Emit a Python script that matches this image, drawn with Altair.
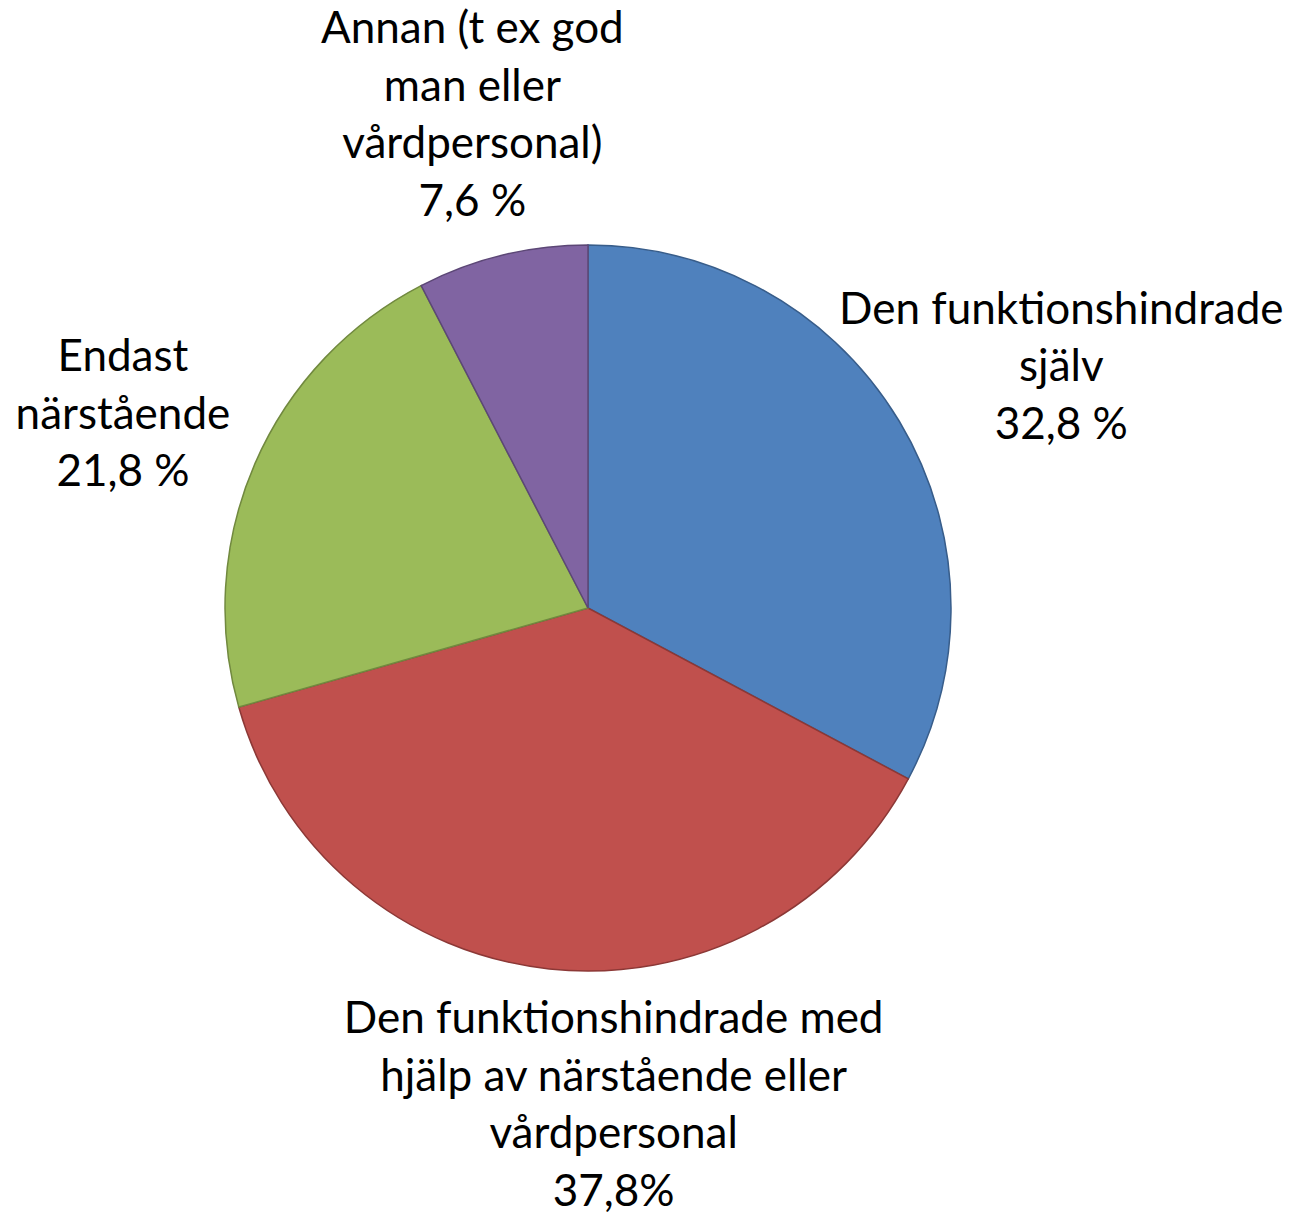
import altair as alt
import pandas as pd

categories = [
    "Den funktionshindrade själv",
    "Den funktionshindrade med hjälp av närstående eller vårdpersonal",
    "Endast närstående",
    "Annan (t ex god man eller vårdpersonal)",
]
values = [32.8, 37.8, 21.8, 7.6]
label_lines = [
    "Den funktionshindrade\nsjälv\n32,8 %",
    "Den funktionshindrade med\nhjälp av närstående eller\nvårdpersonal\n37,8%",
    "Endast\nnärstående\n21,8 %",
    "Annan (t ex god\nman eller\nvårdpersonal)\n7,6 %",
]
fill_colors = ["#4F81BD", "#C0504D", "#9BBB59", "#8064A2"]
stroke_colors = ["#385D8A", "#8C3836", "#71893F", "#5C4776"]

df = pd.DataFrame({
    "cat": categories,
    "value": values,
    "label": label_lines,
    "order": list(range(len(categories))),
})

pie = alt.Chart(df).mark_arc(radius=363, strokeWidth=1.5).encode(
    theta=alt.Theta("value:Q", stack=True),
    order=alt.Order("order:Q"),
    color=alt.Color("cat:N", scale=alt.Scale(domain=categories, range=fill_colors), legend=None),
    stroke=alt.Stroke("cat:N", scale=alt.Scale(domain=categories, range=stroke_colors), legend=None),
)

offsets = [(36, -35), (80, -95), (3, -47), (5, -82)]
layers = [pie]
total = sum(values)
base_text = alt.Chart(df).transform_stack(
    stack="value", groupby=[], as_=["v0", "v1"], sort=[alt.SortField("order")]
).transform_calculate(mid="(datum.v0 + datum.v1) / 2")
for cat, (dx, dy) in zip(categories, offsets):
    layers.append(
        base_text.transform_filter(alt.datum.cat == cat).mark_text(
            radius=510, dx=dx, dy=dy, font="Lato", fontSize=44, lineHeight=57.5,
            lineBreak="\n", align="center", baseline="middle", color="#000000",
        ).encode(
            theta=alt.Theta("mid:Q", scale=alt.Scale(domain=[0, total])),
            text="label:N",
        )
    )

chart = alt.layer(*layers).properties(
    width=1160,
    height=1200,
    padding={"left": 0, "top": 0, "right": 116, "bottom": 4},
    autosize=alt.AutoSizeParams(type="none"),
).configure_view(stroke=None)

chart.save("out.html", embed_options={"renderer": "svg", "actions": False})
